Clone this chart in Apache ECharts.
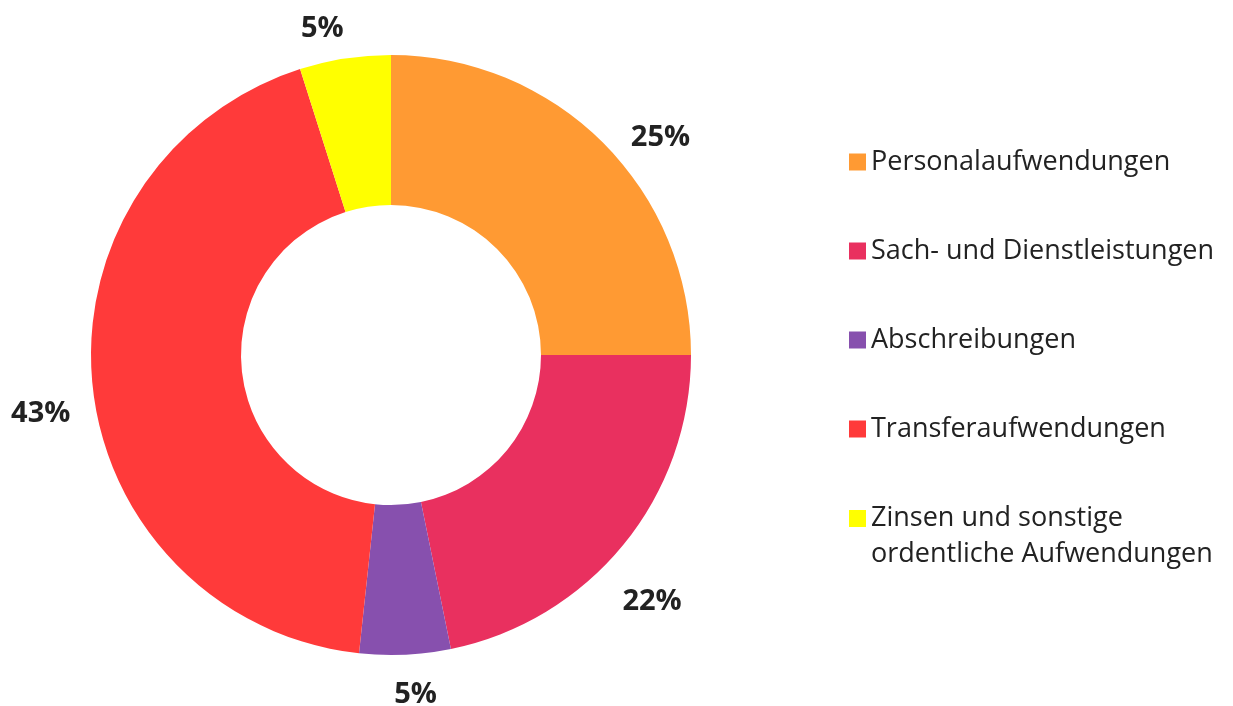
<!DOCTYPE html>
<html>
<head>
<meta charset="utf-8">
<script src="https://cdn.jsdelivr.net/npm/echarts@6/dist/echarts.min.js"></script>
<style>
  html, body { margin: 0; padding: 0; background: #fff; }
  #chart { width: 1233px; height: 706px; }
</style>
</head>
<body>
<div id="chart"></div>
<script>
// Aufwendungen nach Art (Anteile in %)
const names = [
    "Personalaufwendungen",
    "Sach- und Dienstleistungen",
    "Abschreibungen",
    "Transferaufwendungen",
    "Zinsen und sonstige ordentliche Aufwendungen"
];
const values = [25, 21.8, 4.9, 43.4, 4.9];
const colors = ["#FF9A33", "#E9305F", "#8750AE", "#FF3A3A", "#FFFF00"];
// kleine Verschiebung der Prozent-Beschriftungen (wie im Original von Hand gesetzt)
const labelOffsets = [[22, 30], [-10, 25], [8, -10], [-2, 24], [-15, 20]];

const chart = echarts.init(document.getElementById("chart"));

const pieData = names.map((n, i) => ({ name: n, value: values[i], itemStyle: { color: colors[i] } }));
const labelData = names.map((n, i) => ({ name: n, value: values[i], label: { offset: labelOffsets[i] } }));

const option = {
    animation: false,
    legend: {
        orient: "vertical",
        left: 849,
        top: 126,
        padding: 0,
        itemWidth: 17,
        itemHeight: 17,
        itemGap: 17,
        selectedMode: false,
        icon: "rect",
        data: names,
        textStyle: {
            fontFamily: "Open Sans",
            fontSize: 27,
            color: "#222",
            lineHeight: 72,
            rich: {
                a: { fontFamily: "Open Sans", fontSize: 27, color: "#222", lineHeight: 72 },
                b: { fontFamily: "Open Sans", fontSize: 27, color: "#222", lineHeight: 1 }
            }
        },
        formatter: function (name) {
            if (name === names[4]) {
                return "{a|Zinsen und sonstige}\n{b|ordentliche Aufwendungen}";
            }
            return name;
        }
    },
    series: [
        {
            type: "pie",
            center: [391, 355],
            radius: [150, 300],
            startAngle: 90,
            clockwise: true,
            silent: true,
            label: { show: false },
            labelLine: { show: false },
            data: pieData
        },
        {
            // unsichtbarer Ring nur für die Prozent-Beschriftungen
            type: "pie",
            center: [391, 355],
            radius: [322, 372],
            startAngle: 90,
            clockwise: true,
            silent: true,
            itemStyle: { color: "rgba(0,0,0,0)" },
            label: {
                show: true,
                position: "inside",
                formatter: function (p) { return Math.round(p.value) + "%"; },
                fontFamily: "Open Sans",
                fontWeight: "bold",
                fontSize: 29,
                color: "#222"
            },
            labelLine: { show: false },
            data: labelData
        }
    ]
};
chart.setOption(option);
</script>
</body>
</html>
